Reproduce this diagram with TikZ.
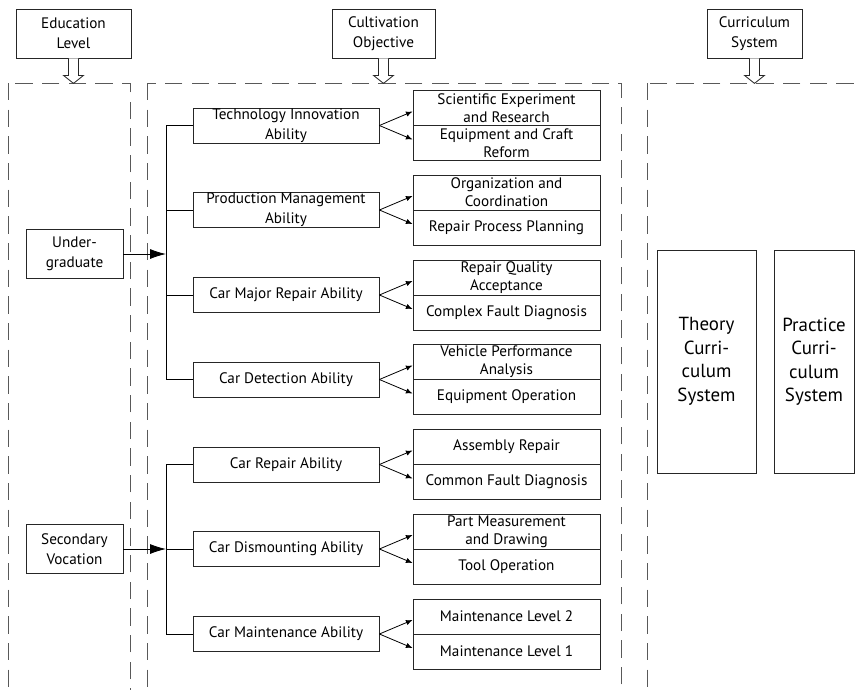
\documentclass[tikz,border=0pt]{standalone}
\usepackage{fontspec}
\setmainfont{PT Sans}
\usetikzlibrary{positioning,arrows.meta}
\begin{document}
\begin{tikzpicture}[x=0.75pt,y=-0.75pt,line width=0.6pt,
  every node/.style={font=\fontsize{11.4}{15}\selectfont},
  box/.style={draw=black!85,align=center,inner sep=0pt},
  headbox/.style={box,minimum height=36.75pt},
  levelbox/.style={box,minimum width=72.75pt,minimum height=37pt},
  ability/.style={box,minimum width=139.5pt,minimum height=26.25pt},
  outcome/.style={box,minimum width=140.25pt,minimum height=26.25pt,font=\fontsize{11.4}{13.5}\selectfont},
  course/.style={box,minimum height=167.25pt,font=\fontsize{14.2}{17.6}\selectfont},
  frame/.style={draw=black!65,dash pattern=on 13pt off 7pt},
  >={Latex[length=5pt,width=4pt]}]
\clip (0,0) rectangle (860,689);
\pgfmathsetmacro{\busx}{166}
% dashed frames, open at the bottom
\draw[frame] (8,83) rectangle (130,720);
\draw[frame] (147,83) rectangle (621,720);
\draw[frame] (647,83) rectangle (900,720);
% column heads and their hollow arrows
\node[headbox,minimum width=86.25pt] (edu) at (73.5,33.5) {Education\\Level};
\node[headbox,minimum width=77.25pt] (cult) at (383.5,33.5) {Cultivation\\Objective};
\node[headbox,minimum width=71.25pt] (curr) at (754.5,33.5) {Curriculum\\System};
\foreach \h in {edu,cult,curr}{\draw[draw=black!85,fill=white](\h.south)++(-5,0)--++(0,17)--++(-5,0)--++(10,8)--++(10,-8)--++(-5,0)--++(0,-17);}
% levels
\node[levelbox] (ug) at (74.5,254) {Under-\\graduate};
\node[levelbox] (sv) at (74.5,549) {Secondary\\Vocation};
\coordinate (bus) at (\busx,0);
% abilities and their two outcomes
\foreach \i/\y/\a/\u/\l in {
  1/125.5/{Technology Innovation\\Ability}/{Scientific Experiment\\and Research}/{Equipment and Craft\\Reform},
  2/210/{Production Management\\Ability}/{Organization and\\Coordination}/{Repair Process Planning},
  3/295/{Car Major Repair Ability}/{Repair Quality\\Acceptance}/{Complex Fault Diagnosis},
  4/379.5/{Car Detection Ability}/{Vehicle Performance\\Analysis}/{Equipment Operation},
  5/464.5/{Car Repair Ability}/{Assembly Repair}/{Common Fault Diagnosis},
  6/549/{Car Dismounting Ability}/{Part Measurement\\and Drawing}/{Tool Operation},
  7/634/{Car Maintenance Ability}/{Maintenance Level 2}/{Maintenance Level 1}}{
  \node[ability] (ab\i) at (286,\y) {\a};
  \node[outcome] (up\i) at (506.5,\y-17.5) {\u};
  \node[outcome] (lo\i) at (506.5,\y+17.5) {\l};
  \draw[->] (ab\i.east)--([yshift=-2.6pt]up\i.west);
  \draw[->] (ab\i.east)--([yshift=2.6pt]lo\i.west);
  \draw (ab\i.west)--(ab\i.west-|bus);
}
\draw (ab1.west-|bus)--(ab4.west-|bus);
\draw (ab5.west-|bus)--(ab7.west-|bus);
\draw[-{Latex[length=12pt,width=7.5pt]}] (ug.east)--(ug.east-|bus);
\draw[-{Latex[length=12pt,width=7.5pt]}] (sv.east)--(sv.east-|bus);
% curriculum blocks
\node[course,minimum width=74.25pt] (theory) at (706.5,361.5) {Theory\\Curri-\\culum\\System};
\node[course,minimum width=60pt] (practice) at (814,361.5) {Practice\\Curri-\\culum\\System};
\end{tikzpicture}
\end{document}
